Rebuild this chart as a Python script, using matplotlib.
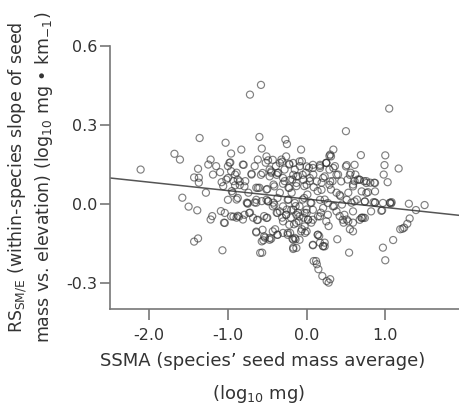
import matplotlib
matplotlib.use("Agg")
import matplotlib.pyplot as plt
import numpy as np

# species seed mass average (log10 mg) vs within-species slope
ssma_scan = [
    -2.11, -1.68, -1.61, -1.58, -1.50, -1.43, -1.38, -1.39, -1.43, -1.38,
    -1.37, -1.37, -1.36, -1.28, -1.25, -1.22, -1.19, -1.22, -1.20, -1.15,
    -1.10, -1.09, -1.07, -1.05, -1.03, -1.08, -1.06, -1.02, -1.00, -0.98,
    -0.96, -0.95, -0.93, -0.96, -0.91, -0.89, -0.875, -0.91, -0.89, -0.85,
    -0.83, -0.86, -0.93, -0.89, -0.81, -0.81, -0.78, -0.76, -0.74, -0.72,
    -0.72, -0.70, -0.68, -0.66, -0.64, -0.64, -0.64, -0.63, -0.62, -0.60,
    -0.58, -0.57, -0.60, -0.57, -0.565, -0.55, -0.54, -0.53, -0.52, -0.51,
    -0.50, -0.49, -0.47, -0.45, -0.45, -0.42, -0.42, -0.40, -0.39, -0.38,
    -0.36, -0.34, -0.32, -0.31, -0.30, -0.28, -0.28, -0.27, -0.25, -0.25,
    -0.23, -0.23, -0.22, -0.21, -0.20, -0.19, -0.18, -0.18, -0.17, -0.16,
    -0.15, -0.14, -0.14, -0.13, -0.11, -0.11, -0.10, -0.085, -0.07, -0.06,
    -0.06, -0.05, -0.04, -0.03, -0.02, -0.01, 0.00, 0.01, 0.02, 0.03,
    0.04, 0.05, 0.06, 0.08, 0.085, 0.09, 0.12, 0.13, 0.14, 0.15,
    0.16, 0.17, 0.17, 0.18, 0.19, 0.20, 0.21, 0.23, 0.23, 0.25,
    0.255, 0.28, 0.30, 0.28, 0.29, 0.30, 0.31, 0.33, 0.34, 0.35,
    0.36, 0.38, 0.39, 0.40, 0.42, 0.43, 0.45, 0.47, 0.50, 0.51,
    0.51, 0.52, 0.53, 0.54, 0.55, 0.56, 0.57, 0.59, 0.59, 0.61,
    0.62, 0.64, 0.65, 0.67, 0.69, 0.70, 0.72, 0.73, 0.74, 0.76,
    0.78, 0.81, 0.85, 0.86, 0.87, 0.96, 0.97, 0.98, 0.99, 1.00,
    1.00, 1.03, 1.05, 1.06, 1.075, 1.08, 1.10, 1.17, 1.19, 1.22,
    1.24, 1.28, 1.31, 1.30, 1.39, 1.50,
]
rs_scan = [
    0.130, 0.190, 0.168, 0.023, -0.011, -0.144, -0.132, -0.025, 0.100, 0.133,
    0.099, 0.080, 0.250, 0.042, 0.149, 0.168, 0.111, -0.060, -0.047, 0.143,
    0.120, -0.028, -0.177, -0.072, 0.232, 0.082, 0.067, 0.092, 0.143, 0.156,
    0.191, 0.048, 0.086, 0.124, 0.111, 0.016, 0.092, 0.070, 0.118, 0.071,
    0.206, -0.049, -0.049, -0.053, -0.060, 0.149, 0.086, 0.004, 0.042, 0.415,
    -0.034, 0.111, -0.053, 0.143, 0.061, 0.004, -0.106, -0.062, 0.168, 0.254,
    0.452, 0.210, 0.061, 0.010, -0.186, -0.139, -0.047, -0.129, 0.156, 0.054,
    -0.053, 0.010, 0.130, 0.118, -0.133, 0.073, 0.004, -0.097, 0.143, -0.034,
    0.118, 0.042, 0.168, -0.053, -0.111, 0.130, 0.086, 0.244, 0.227, -0.022,
    0.016, 0.061, 0.149, -0.111, -0.053, 0.042, 0.092, -0.133, -0.167, -0.078,
    0.130, -0.135, -0.009, 0.067, -0.034, 0.105, -0.066, 0.143, 0.206, 0.162,
    -0.097, 0.016, -0.053, 0.067, -0.111, 0.118, -0.022, 0.035, -0.060, 0.137,
    0.086, 0.004, -0.072, -0.158, 0.111, -0.218, -0.218, -0.230, 0.048, -0.249,
    -0.123, 0.143, -0.148, -0.034, 0.080, -0.275, -0.161, -0.148, 0.016, 0.156,
    -0.294, -0.300, -0.287, -0.085, 0.130, 0.187, 0.054, 0.086, 0.206, -0.009,
    0.143, 0.042, -0.135, 0.111, -0.047, 0.029, -0.003, -0.072, 0.276, 0.147,
    -0.060, 0.092, 0.042, -0.186, -0.097, 0.118, 0.004, 0.073, -0.072, 0.086,
    0.111, 0.016, 0.092, 0.092, 0.185, -0.053, -0.053, 0.086, 0.008, 0.086,
    0.044, 0.080, 0.006, 0.080, 0.004, -0.025, -0.167, 0.111, 0.147, 0.184,
    -0.215, 0.082, 0.362, 0.004, 0.001, 0.006, -0.138, 0.134, -0.097, -0.095,
    -0.091, -0.076, -0.056, 0.000, -0.024, -0.005,
]

# denser core, upper half
ssma_core_up = [
    -0.97, -0.80, -0.49, -0.31, -0.22, -0.70, -0.58, -0.45, -0.37, -0.17,
    -0.05, 0.08, 0.17, 0.25, 0.31, 0.23, -0.85, -0.79, -1.00, -0.94,
    -0.62, -0.50, -0.41, -0.30, -0.22, -0.13, 0.00, 0.09, 0.19, 0.29,
    -1.00, -0.875, -0.75, -0.64, -0.49, -0.37, -0.24, -0.15, -0.03, 0.06,
    0.17, 0.27,
    -0.51, -0.43, -0.34, -0.26, -0.17, -0.09, 0.00, 0.08, 0.17, 0.25, 0.34,
    -0.56, -0.47, -0.38, -0.30, -0.21, -0.13, -0.04, 0.04, 0.13, 0.21, 0.30,
]
rs_core_up = [
    0.157, 0.148, 0.165, 0.160, 0.152, 0.114, 0.110, 0.123, 0.117, 0.110,
    0.110, 0.136, 0.148, 0.155, 0.180, 0.104, 0.085, 0.066, 0.098, 0.041,
    0.060, 0.056, 0.066, 0.076, 0.060, 0.079, 0.072, 0.063, 0.053, 0.072,
    0.015, 0.022, 0.003, 0.015, 0.009, 0.022, 0.015, 0.003, 0.022, 0.003,
    0.015, 0.003,
    0.180, 0.167, 0.155, 0.180, 0.155, 0.161, 0.142, 0.148, 0.136, 0.155, 0.136,
    0.117, 0.104, 0.110, 0.098, 0.091, 0.104, 0.091, 0.098, 0.085, 0.098, 0.085,
]

# denser core, lower half
ssma_core_low = [
    -1.04, -1.04, -0.96, -0.875, -0.75, -0.66, -0.79, -0.73, -0.62, -0.51,
    -0.64, -0.54, -0.57, -0.47, -0.43, -0.37, -0.59, -0.37, -0.30, -0.41,
    -0.26, -0.195, -0.13, -0.09, -0.025, 0.017, 0.08, 0.144, 0.21, 0.27,
    0.335, -0.30, -0.22, -0.13, -0.025, -0.24, -0.15, -0.09, -0.17, 0.00,
    0.144, 0.21,
    -0.51, -0.43, -0.34, -0.26, -0.17, -0.09, 0.00, 0.08, 0.17, 0.25,
    -0.56, -0.47, -0.37, -0.24, -0.17, -0.13, -0.07, 0.08, 0.14, 0.23,
]
rs_core_low = [
    -0.035, -0.073, -0.048, -0.046, 0.000, 0.005, -0.042, -0.035, -0.061, -0.054,
    -0.109, -0.124, -0.143, -0.137, -0.105, -0.118, -0.187, -0.035, -0.010, -0.004,
    -0.042, -0.023, -0.042, -0.010, -0.035, -0.061, -0.023, -0.048, -0.016, -0.042,
    -0.010, -0.067, -0.080, -0.073, -0.086, -0.118, -0.130, -0.137, -0.172, -0.105,
    -0.118, -0.162,
    0.015, -0.010, -0.029, -0.042, -0.023, -0.048, -0.035, -0.061, -0.048, -0.067,
    -0.099, -0.130, -0.118, -0.111, -0.137, -0.168, -0.105, -0.156, -0.118, -0.162,
]

# right-hand cluster
ssma_right = [
    0.29, 0.50, 0.61, 0.55, 0.675, 0.76, 0.87, 0.38, 0.44, 0.59,
    0.70, 0.76, 0.87, 0.42, 0.51, 0.61, 0.74, 0.87, 0.97, 1.06,
    0.38, 0.48, 0.59, 0.70, 0.82, 0.95, 0.46, 0.53, 0.59, 0.675, 0.74,
]
rs_right = [
    0.182, 0.142, 0.148, 0.110, 0.091, 0.079, 0.079, 0.110, 0.085, 0.066,
    0.047, 0.041, 0.047, 0.034, 0.015, 0.009, 0.009, 0.005, 0.003, 0.003,
    -0.029, -0.042, -0.029, -0.054, -0.029, -0.027, -0.061, -0.067, -0.105, -0.061, -0.054,
]

# fitted regression line
fit_intercept = 0.018
fit_slope = -0.032

x_ticks = [-2.0, -1.0, 0.0, 1.0]
y_ticks = [-0.3, 0.0, 0.3, 0.6]

plt.rcParams["font.family"] = ["DejaVu Sans"]
plt.rcParams["axes.unicode_minus"] = False
plt.rcParams["mathtext.default"] = "regular"

ssma = np.array(ssma_scan + ssma_core_up + ssma_core_low + ssma_right)
rs = np.array(rs_scan + rs_core_up + rs_core_low + rs_right)

fig = plt.figure(figsize=(4.6, 4.07), dpi=100)
ax = fig.add_axes([0.239, 0.241, 0.761, 0.646])

ax.scatter(ssma, rs, s=26, facecolors="none", edgecolors="#333333",
           linewidths=0.85, alpha=0.62, zorder=3)

x_lim = (-2.5, 1.95)
xs = np.array(x_lim)
ax.plot(xs, fit_intercept + fit_slope * xs, color="#555555", lw=1.1, zorder=2)

ax.set_xlim(*x_lim)
ax.set_ylim(-0.4, 0.6)
ax.set_xticks(x_ticks)
ax.set_xticklabels([f"{v:.1f}" for v in x_ticks])
ax.set_yticks(y_ticks)
ax.set_yticklabels([f"{v:.1f}" for v in y_ticks])

for side in ("top", "right"):
    ax.spines[side].set_visible(False)
for side in ("left", "bottom"):
    ax.spines[side].set_color("#777777")
    ax.spines[side].set_linewidth(1.2)

ax.tick_params(axis="x", length=8, width=1.2, color="#777777", pad=6,
               labelsize=11.5, labelcolor="#333333")
ax.tick_params(axis="y", length=7, width=1.2, color="#777777", pad=2,
               labelsize=11.5, labelcolor="#333333")

ax.set_ylabel("RS$_{SM/E}$ (within-species slope of seed\n"
              "mass vs. elevation) (log$_{10}$ mg \u2022 km$_{-1}$)",
              fontsize=12.5, color="#333333", linespacing=1.25, labelpad=8)

fig.text(0.57, 0.112, "SSMA (species\u2019 seed mass average)",
         ha="center", va="center", fontsize=13, color="#333333")
fig.text(0.562, 0.032, "(log$_{10}$ mg)",
         ha="center", va="center", fontsize=13, color="#333333")

fig.savefig("out.png", dpi=100)
